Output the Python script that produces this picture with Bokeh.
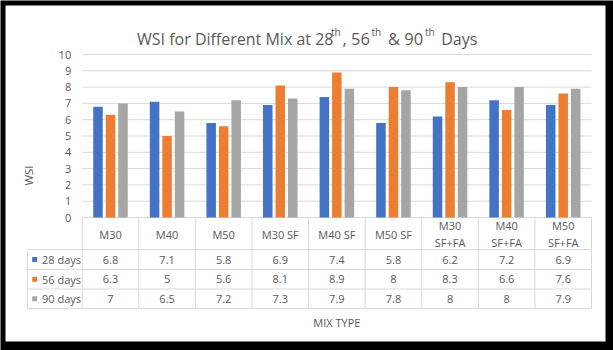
from bokeh.plotting import figure
from bokeh.models import Range1d, LinearAxis, FixedTicker
from bokeh.core.properties import value
from bokeh.embed import file_html
from bokeh.resources import INLINE

# ---------------- data ----------------
categories = ["M30", "M40", "M50", "M30 SF", "M40 SF", "M50 SF",
              "M30\nSF+FA", "M40\nSF+FA", "M50\nSF+FA"]
series_names = ["28 days", "56 days", "90 days"]
wsi_28 = [6.8, 7.1, 5.8, 6.9, 7.4, 5.8, 6.2, 7.2, 6.9]
wsi_56 = [6.3, 5, 5.6, 8.1, 8.9, 8, 8.3, 6.6, 7.6]
wsi_90 = [7, 6.5, 7.2, 7.3, 7.9, 7.8, 8, 8, 7.9]
y_ticks = list(range(0, 11))
title_parts = ["WSI for Different Mix at 28", "th", ", 56", "th", "& 90", "th", "Days"]
title_sup = [False, True, False, True, False, True, False]
x_title = "MIX TYPE"
y_title = "WSI"

# ---------------- style / layout ----------------
colors = ["#4472C4", "#ED7D31", "#A5A5A5"]
TXT = "#595959"
GRID = "#D9D9D9"
FONT = value("Open Sans")
W, H = 613, 350
X0, CW = 81.7, 56.59      # plot-area left (px), category width (px)
Y0, UY = 217.0, 16.3      # zero line (px), px per unit


def ux(px):
    return (px - X0) / CW


def uy(py):
    return (Y0 - py) / UY


p = figure(width=W, height=H, x_range=Range1d(ux(0), ux(W)), y_range=Range1d(uy(H), uy(0)),
           min_border=0, x_axis_location=None, y_axis_location=None,
           toolbar_location=None, output_backend="svg",
           background_fill_color="black", border_fill_color="black",
           outline_line_color=None)
p.xgrid.visible = False
p.ygrid.visible = False

# white card
p.quad(left=ux(5), right=ux(605), top=uy(5), bottom=uy(341),
       fill_color="white", line_color=None)

n = len(categories)
# gridlines
p.segment(x0=[0] * len(y_ticks), x1=[n] * len(y_ticks), y0=y_ticks, y1=y_ticks,
          line_color=GRID, line_width=1)

# bars
series = [wsi_28, wsi_56, wsi_90]
offsets = [-0.221, 0.0, 0.221]
for vals, col, off, name in zip(series, colors, offsets, series_names):
    p.vbar(x=[i + 0.5 + off for i in range(n)], top=vals, bottom=0, width=0.168,
           fill_color=col, line_color=None)

# data table lines
row_lines = [249, 269, 288.5, 308]
p.segment(x0=[ux(27)] * len(row_lines), x1=[n] * len(row_lines),
          y0=[uy(r) for r in row_lines], y1=[uy(r) for r in row_lines],
          line_color=GRID, line_width=1)
p.segment(x0=list(range(n + 1)), x1=list(range(n + 1)),
          y0=[0] * (n + 1), y1=[uy(308)] * (n + 1), line_color=GRID, line_width=1)
p.segment(x0=[ux(27)], x1=[ux(27)], y0=[uy(249)], y1=[uy(308)], line_color=GRID, line_width=1)

# header row (category labels, one text per line)
hx, hy, ht = [], [], []
for i, cat in enumerate(categories):
    lines = cat.split("\n")
    if len(lines) == 1:
        ys = [233.5]
    else:
        ys = [225.3, 241.8]
    for ln, yy in zip(lines, ys):
        hx.append(i + 0.5)
        hy.append(uy(yy))
        ht.append(ln)
p.text(x=hx, y=hy, text=ht, text_font=FONT, text_font_size="11px", text_color=TXT,
       text_align="center", text_baseline="middle")

# value rows + legend keys
row_centers = [259, 278.8, 298.3]
for vals, col, name, rc in zip(series, colors, series_names, row_centers):
    p.text(x=[i + 0.5 for i in range(n)], y=[uy(rc)] * n, text=[str(v) for v in vals],
           text_font=FONT, text_font_size="11px", text_color=TXT,
           text_align="center", text_baseline="middle")
    p.scatter(x=[ux(34.2)], y=[uy(rc)], marker="square", size=5,
              fill_color=col, line_color=None)
    p.text(x=[ux(41.5)], y=[uy(rc)], text=[name],
           text_font=FONT, text_font_size="11px", text_color=TXT,
           text_align="left", text_baseline="middle")

# x axis title
p.text(x=[n / 2], y=[uy(322)], text=[x_title], text_font=FONT, text_font_size="11px",
       text_color=TXT, text_align="center", text_baseline="middle")

# chart title (with superscripts)
title_x = [136.5, 330.5, 342, 371, 387.5, 424.5, 440.7]
title_fs = ["16px", "10px", "16.5px", "10px", "16.5px", "10px", "16px"]
for part, sup, tx, fs in zip(title_parts, title_sup, title_x, title_fs):
    p.text(x=[ux(tx)], y=[uy(31.2 if sup else 38)], text=[part], text_font=FONT,
           text_font_size=fs, text_color=TXT,
           text_align="left", text_baseline="alphabetic")

# y axis
yaxis = LinearAxis(fixed_location=0, ticker=FixedTicker(ticks=y_ticks),
                   axis_line_color=None, major_tick_line_color=None,
                   minor_tick_line_color=None, major_tick_in=0, major_tick_out=0,
                   minor_tick_in=0, minor_tick_out=0,
                   major_label_standoff=11, major_label_text_font="Open Sans",
                   major_label_text_font_size="11px", major_label_text_color=TXT,
                   axis_label=y_title, axis_label_standoff=20,
                   axis_label_text_font="Open Sans", axis_label_text_font_size="11.5px",
                   axis_label_text_font_style="normal", axis_label_text_color=TXT)
p.add_layout(yaxis, "left")

open("out.html", "w").write(file_html(p, INLINE))
